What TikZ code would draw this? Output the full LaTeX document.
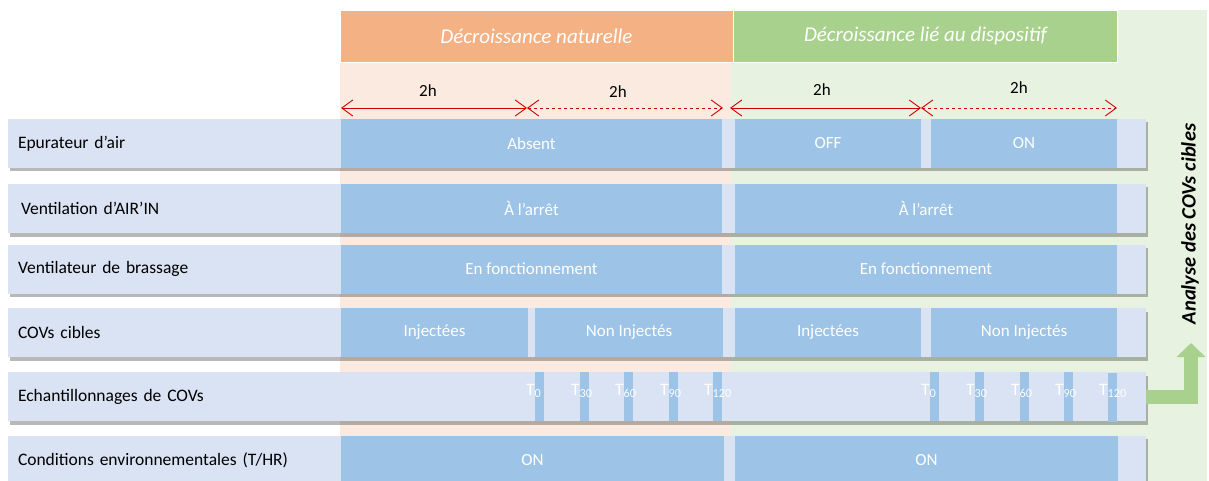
\documentclass[tikz,border=0pt]{standalone}
\usepackage{fontspec}
\setmainfont{Carlito}
\usepackage{xcolor}
\usepackage{tikz}
\usetikzlibrary{arrows.meta, positioning, shadows}

\definecolor{hdrorange}{HTML}{F4B183}
\definecolor{hdrgreen}{HTML}{A9D18E}
\definecolor{bgorange}{HTML}{FBEADF}
\definecolor{bggreen}{HTML}{E7F2E0}
\definecolor{rowblue}{HTML}{DAE3F3}
\definecolor{segblue}{HTML}{9DC3E6}
\definecolor{dimred}{HTML}{D00000}

\begin{document}
\begin{tikzpicture}[
    x=1pt, y=-1pt,
    header/.style={rectangle, draw=white, line width=0.8pt, minimum height=52pt, inner sep=0pt, text=white, font=\fontsize{21}{24}\selectfont\itshape},
    rowbar/.style={rectangle, fill=rowblue, minimum height=49pt, inner xsep=10pt, text width=1118pt, align=left, font=\fontsize{17.5}{20}\selectfont,
        drop shadow={shadow xshift=2pt, shadow yshift=-3.5pt, opacity=0.35, fill=black!80}},
    seg/.style={rectangle, fill=segblue, minimum height=49pt, inner sep=0pt, text=white, font=\fontsize{17}{20}\selectfont},
    tick/.style={rectangle, fill=segblue, minimum width=9pt, minimum height=49pt, inner sep=0pt},
    tlabel/.style={anchor=base west, inner sep=0pt, text=white, font=\fontsize{17.5}{20}\selectfont},
    dim/.style={draw=dimred, line width=0.9pt, {Straight Barb[length=11pt,width=16pt]}-{Straight Barb[length=11pt,width=16pt]}},
    hours/.style={font=\fontsize{17}{20}\selectfont}
]
\useasboundingbox (0,0) rectangle (1209,481);

% Backgrounds of the two phases
\fill[bgorange] (340,62) rectangle (731,481);
\fill[bggreen] (731,10) rectangle (1207,481);
\node[header, fill=hdrorange, minimum width=393pt] (nat) at (536.5,36) {Décroissance naturelle};
\node[header, fill=hdrgreen, minimum width=384pt] (disp) at (925.5,36) {Décroissance lié au dispositif};

% Durations
\coordinate (p0) at (341,108);
\coordinate (p1) at (527,108);
\coordinate (p2) at (723,108);
\coordinate (p3) at (730,108);
\coordinate (p4) at (921,108);
\coordinate (p5) at (1117,108);
\draw[dim] (p0) -- (p1);
\draw[dim, dashed] (p1) -- (p2);
\draw[dim] (p3) -- (p4);
\draw[dim, dashed] (p4) -- (p5);
\node[hours] (h1) at (428,91) {2h};
\node[hours] (h2) at (618,92) {2h};
\node[hours] (h3) at (822,90) {2h};
\node[hours] (h4) at (1019,88) {2h};

% Rows
\node[rowbar] (r1) at (577,143.5) {Epurateur d’air};
\node[rowbar] (r2) at (577,208.5) {\hspace{3pt}Ventilation d’AIR’IN};
\node[rowbar] (r3) at (577,269) {Ventilateur de brassage};
\node[rowbar] (r4) at (577,332.5) {COVs cibles};
\node[rowbar] (r5) at (577,396.5) {Echantillonnages de COVs};
\node[rowbar] (r6) at (577,460) {Conditions environnementales (T/HR)};

% Epurateur d'air
\node[seg, minimum width=381pt] (abs) at (531.5,143.5) {Absent};
\node[seg, minimum width=186pt] (off) at (828,143.5) {OFF};
\node[seg, minimum width=186pt] (on1) at (1024,143.5) {ON};

% Ventilation et brassage
\node[seg, minimum width=381pt] (arr1) at (531.5,208.5) {À l’arrêt};
\node[seg, minimum width=382pt] (arr2) at (926,208.5) {À l’arrêt};
\node[seg, minimum width=381pt] (fct1) at (531.5,269) {En fonctionnement};
\node[seg, minimum width=382pt] (fct2) at (926,269) {En fonctionnement};

% COVs cibles
\node[seg, minimum width=187pt] (inj1) at (434.5,332.5) {Injectées};
\node[seg, minimum width=188pt] (non1) at (629,332.5) {Non Injectés};
\node[seg, minimum width=186pt] (inj2) at (828,332.5) {Injectées};
\node[seg, minimum width=186pt] (non2) at (1024,332.5) {Non Injectés};

% Prelevements
\node[tick] (ta0) at (539.5,396.5) {};
\node[tick] (ta30) at (584.5,396.5) {};
\node[tick] (ta60) at (628.5,396.5) {};
\node[tick] (ta90) at (673.5,396.5) {};
\node[tick] (ta120) at (717.5,396.5) {};
\node[tick] (tb0) at (934.5,396.5) {};
\node[tick] (tb30) at (979.5,396.5) {};
\node[tick] (tb60) at (1024.5,396.5) {};
\node[tick] (tb90) at (1068.5,396.5) {};
\node[tick] (tb120) at (1112.5,397.5) {};
\node[tlabel] (la0) at (526,395) {T\textsubscript{0}};
\node[tlabel] (la30) at (571,395) {T\textsubscript{30}};
\node[tlabel] (la60) at (615,395) {T\textsubscript{60}};
\node[tlabel] (la90) at (660,395) {T\textsubscript{90}};
\node[tlabel] (la120) at (704,395) {T\textsubscript{120}};
\node[tlabel] (lb0) at (921,395) {T\textsubscript{0}};
\node[tlabel] (lb30) at (966,395) {T\textsubscript{30}};
\node[tlabel] (lb60) at (1011,395) {T\textsubscript{60}};
\node[tlabel] (lb90) at (1055,395) {T\textsubscript{90}};
\node[tlabel] (lb120) at (1099,395) {T\textsubscript{120}};

% Conditions
\node[seg, minimum width=383pt] (cond1) at (532.5,460) {ON};
\node[seg, minimum width=383pt] (cond2) at (926.5,460) {ON};

% Analyse
\coordinate (tip) at (1191,343);
\draw[hdrgreen, line width=14pt, -{Triangle[width=28pt,length=14pt]}] (r5.east) -| (tip);
\node[rotate=90, font=\fontsize{20.5}{22}\selectfont\bfseries\itshape] (ana) at (1190,224) {Analyse des COVs cibles};

\end{tikzpicture}
\end{document}
